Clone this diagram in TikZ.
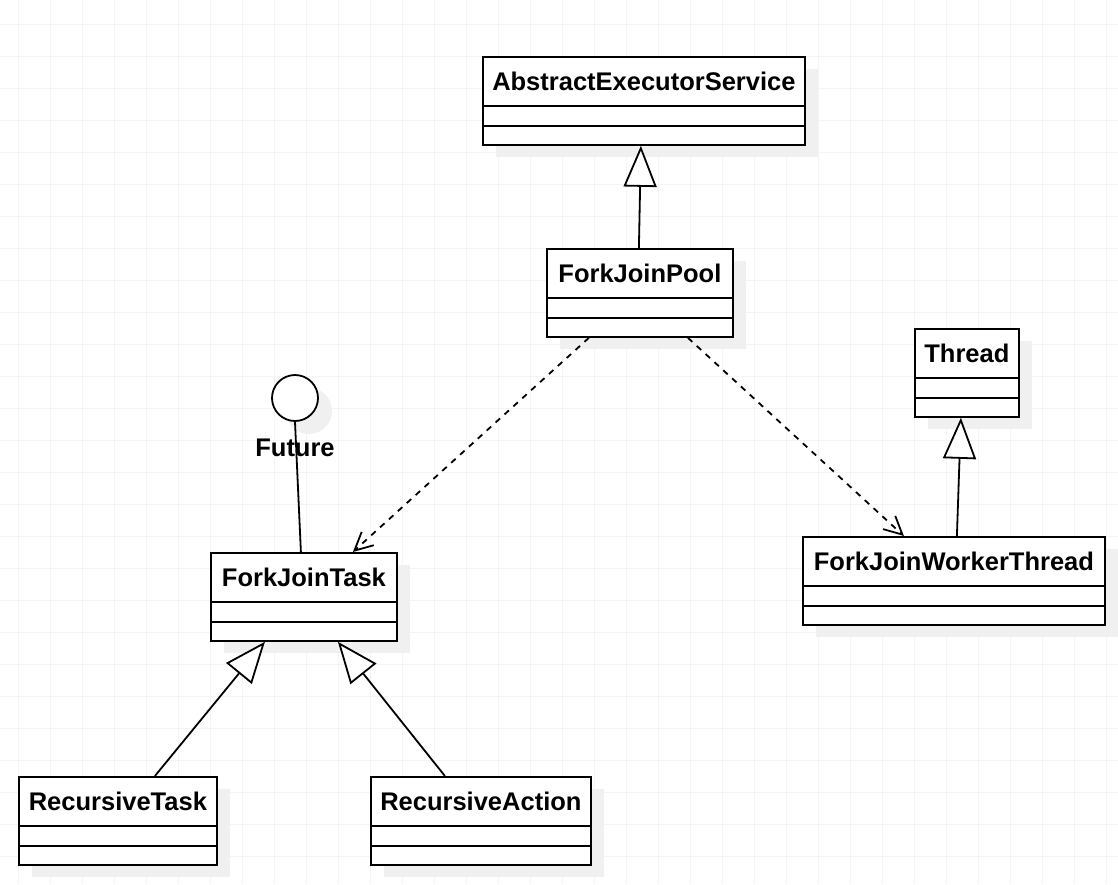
\documentclass[tikz,border=0pt]{standalone}
\usepackage{fontspec}
\setmainfont{Liberation Sans}
\usetikzlibrary{arrows.meta,calc}
\definecolor{gridc}{gray}{0.955}
\definecolor{shadowc}{gray}{0.94}
\tikzset{
  umlclass/.style={rectangle, draw, fill=white, line width=1.8pt, inner sep=0pt,
    minimum height=88pt, anchor=north west},
  classname/.style={anchor=base, inner sep=0pt, font=\fontsize{25.5pt}{30pt}\selectfont\bfseries},
  divider/.style={line width=1.8pt},
  conn/.style={line width=1.8pt},
  general/.style={conn, -{Triangle[open, length=41pt, width=33pt, fill=white]}},
  depend/.style={conn, dash pattern=on 6pt off 6pt, -{Straight Barb[length=18pt, width=18pt]}},
  lollipop/.style={circle, draw, fill=white, line width=1.8pt, minimum size=46pt, inner sep=0pt},
}
\newcommand\umlbox[5]{% name, x, y, w, text
  \fill[shadowc] (#2+14,-#3-13) rectangle ++(#4,-88);
  \node[umlclass, minimum width=#4pt] (#1) at (#2,-#3) {};
  \draw[divider] ($(#1.north west)+(0,-50)$) -- ($(#1.north east)+(0,-50)$);
  \draw[divider] ($(#1.north west)+(0,-70)$) -- ($(#1.north east)+(0,-70)$);
  \node[classname] (#1-name) at ($(#1.north)+(0,-34)$) {#5};
}
\begin{document}
\begin{tikzpicture}[x=1pt, y=1pt]
  \useasboundingbox (0,0) rectangle (1118,-884);
  \fill[white] (0,0) rectangle (1118,-884);
  % grid
  \foreach \i in {0,...,34} { \draw[gridc, line width=1pt] (18+32*\i,0) -- (18+32*\i,-884); }
  \foreach \j in {0,...,26} { \draw[gridc, line width=1pt] (0,-24-32*\j) -- (1118,-24-32*\j); }
  % interface shadow
  \fill[shadowc] (309,-411) circle (23);
  % classes
  \umlbox{aes}{482}{56}{322}{AbstractExecutorService}
  \umlbox{fjp}{546}{248}{186}{ForkJoinPool}
  \umlbox{thread}{914}{328}{104}{Thread}
  \umlbox{fjwt}{802}{536}{302}{ForkJoinWorkerThread}
  \umlbox{fjt}{210}{552}{186}{ForkJoinTask}
  \umlbox{rt}{18}{776}{198}{RecursiveTask}
  \umlbox{ra}{370}{776}{220}{RecursiveAction}
  % interface
  \node[lollipop] (fut) at (295,-398) {};
  \draw[conn] (fut.south) -- ($(fjt.north)+(-3,0)$);
  \node[classname] (fut-name) at (295,-456) {Future};
  % generalizations
  \draw[general] ($(fjp.north)+(-1,0)$) -- ($(aes.south)+(-3,0)$);
  \draw[general] ($(fjwt.north)+(3,0)$) -- ($(thread.south)+(-6,0)$);
  \draw[general] ($(rt.north)+(37,0)$) -- ($(fjt.south)+(-39,0)$);
  \draw[general] ($(ra.north)+(-36,0)$) -- ($(fjt.south)+(34,0)$);
  % dependencies
  \draw[depend] ($(fjp.south)+(-51,0)$) -- ($(fjt.north)+(49,0)$);
  \draw[depend] ($(fjp.south)+(48,0)$) -- ($(fjwt.north)+(-50,0)$);
\end{tikzpicture}
\end{document}
